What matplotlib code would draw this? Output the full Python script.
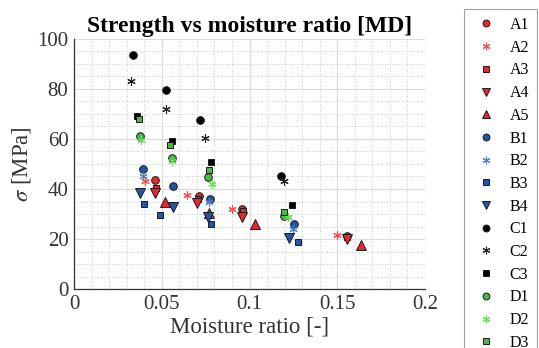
import numpy as np
import matplotlib
matplotlib.use("Agg")
import matplotlib.pyplot as plt
from matplotlib.ticker import MultipleLocator, FuncFormatter

plt.rcParams['font.family'] = ['Liberation Serif', 'DejaVu Serif']
plt.rcParams['mathtext.fontset'] = 'stix'

# moisture ratio [-] and strength [MPa] per specimen group
A1_x = [0.0463, 0.0712, 0.0959, 0.1554]
A1_y = [43.4, 37.3, 32.0, 21.4]
A2_x = [0.0406, 0.0646, 0.0902, 0.1501]
A2_y = [43.1, 37.4, 32.0, 21.6]
A3_x = [0.0465, 0.0709, 0.0961, 0.1556]
A3_y = [40.3, 36.2, 31.2, 20.9]
A4_x = [0.0463, 0.0701, 0.0957, 0.1554]
A4_y = [38.3, 34.6, 29.0, 20.1]
A5_x = [0.0517, 0.0769, 0.1031, 0.1635]
A5_y = [34.9, 30.4, 26.1, 17.8]
B1_x = [0.0393, 0.0566, 0.0773, 0.1255]
B1_y = [47.9, 41.0, 36.2, 26.1]
B2_x = [0.0391, 0.0769, 0.1246]
B2_y = [45.0, 34.9, 24.2]
B3_x = [0.0401, 0.0490, 0.0783, 0.1276]
B3_y = [34.2, 29.8, 26.2, 19.0]
B4_x = [0.0378, 0.0564, 0.0765, 0.1227]
B4_y = [38.3, 32.8, 29.0, 20.5]
C1_x = [0.0334, 0.0522, 0.0720, 0.1178]
C1_y = [93.6, 79.4, 67.5, 45.3]
C2_x = [0.0327, 0.0526, 0.0746, 0.1197]
C2_y = [83.2, 71.9, 60.3, 43.0]
C3_x = [0.0357, 0.0557, 0.0779, 0.1242]
C3_y = [69.2, 59.3, 50.6, 33.8]
D1_x = [0.0376, 0.0557, 0.0765, 0.1199]
D1_y = [61.0, 52.2, 44.6, 29.3]
D2_x = [0.0384, 0.0560, 0.0788, 0.1221]
D2_y = [59.7, 51.0, 41.9, 28.8]
D3_x = [0.0370, 0.0545, 0.0771, 0.1195]
D3_y = [68.0, 57.7, 47.4, 30.9]

red = '#e8262b'
blue = '#2455a4'
black = '#000000'
green = '#4cb848'
star = (6, 2, 0)

series = [
    ('A1', A1_x, A1_y, 'o', red, red, 5.5),
    ('A2', A2_x, A2_y, star, '#ff4a4a', None, 6),
    ('A3', A3_x, A3_y, 's', red, red, 5),
    ('A4', A4_x, A4_y, 'v', red, red, 6.5),
    ('A5', A5_x, A5_y, '^', red, red, 6.5),
    ('B1', B1_x, B1_y, 'o', blue, blue, 5.5),
    ('B2', B2_x, B2_y, star, '#4a7fd8', None, 6),
    ('B3', B3_x, B3_y, 's', blue, blue, 5),
    ('B4', B4_x, B4_y, 'v', blue, blue, 6.5),
    ('C1', C1_x, C1_y, 'o', black, black, 5.5),
    ('C2', C2_x, C2_y, star, '#222222', None, 6),
    ('C3', C3_x, C3_y, 's', black, black, 5),
    ('D1', D1_x, D1_y, 'o', green, green, 5.5),
    ('D2', D2_x, D2_y, star, '#66dd55', None, 6),
    ('D3', D3_x, D3_y, 's', green, green, 5),
]

fig = plt.figure(figsize=(5.39, 3.48), dpi=100)
ax = fig.add_axes([0.1373, 0.1695, 0.6512, 0.7185])

handles = []
for name, xs, ys, mk, col, face, ms in series:
    if face is None:
        h, = ax.plot(xs, ys, linestyle='none', marker=mk, color=col,
                     markersize=ms, markeredgewidth=0.8, label=name)
    else:
        h, = ax.plot(xs, ys, linestyle='none', marker=mk, markerfacecolor=face,
                     markeredgecolor='#1a1a1a', markeredgewidth=0.7,
                     markersize=ms, label=name)
    handles.append(h)

ax.set_xlim(0, 0.2)
ax.set_ylim(0, 100)
ax.xaxis.set_major_locator(MultipleLocator(0.05))
ax.xaxis.set_minor_locator(MultipleLocator(0.01))
ax.yaxis.set_major_locator(MultipleLocator(20))
ax.yaxis.set_minor_locator(MultipleLocator(5))
ax.xaxis.set_major_formatter(FuncFormatter(lambda v, p: f'{v:g}'))
ax.grid(which='major', color='#dcdcdc', linewidth=0.9)
ax.grid(which='minor', color='#bdbdbd', linestyle=(0, (1, 2)), linewidth=0.6)
ax.set_axisbelow(True)
ax.tick_params(which='both', length=0, labelsize=15, colors='#333333', pad=4)
for side in ['top', 'right']:
    ax.spines[side].set_visible(False)
for side in ['left', 'bottom']:
    ax.spines[side].set_color('#333333')
    ax.spines[side].set_linewidth(0.9)

ax.set_title('Strength vs moisture ratio [MD]', fontsize=17, fontweight='bold', pad=5)
ax.set_xlabel('Moisture ratio [-]', fontsize=16.5, color='#333333', labelpad=2)
ax.set_ylabel(r'$\sigma$ [MPa]', fontsize=16.5, color='#333333', labelpad=3)

leg = fig.legend(handles=handles, loc='upper left',
                 bbox_to_anchor=(464 / 539, 1 - 9 / 348),
                 frameon=True, fancybox=False, edgecolor='#888888',
                 fontsize=11.5, handlelength=1.8, handletextpad=0.55,
                 labelspacing=0.42, borderpad=0.5, borderaxespad=0,
                 markerscale=0.9)
leg.get_frame().set_linewidth(0.8)

fig.savefig('out.png', dpi=100)
